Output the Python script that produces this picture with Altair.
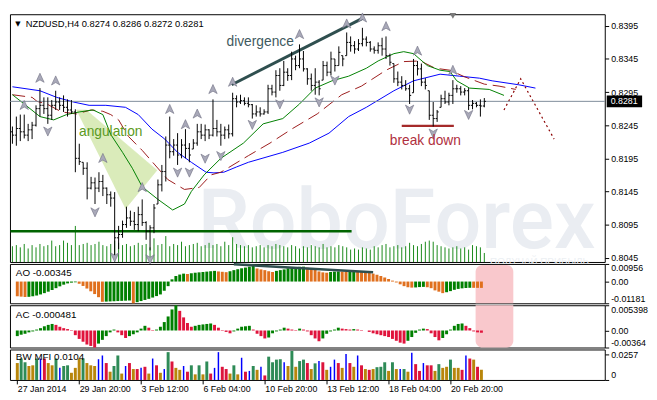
import altair as alt
import pandas as pd

# ---------------- values ----------------
# NZDUSD H4 bars, bar 0 = 27 Jan 2014 04:00 ... bar 120 = last bar
highs = [0.8243,0.8258,0.8261,0.8261,0.8247,0.8250,0.8275,0.8301,0.8287,0.8287,
         0.8283,0.8297,0.8287,0.8290,0.8284,0.8283,0.8269,0.8217,0.8189,0.8189,
         0.8167,0.8166,0.8174,0.8170,0.8151,0.8145,0.8144,0.8093,0.8101,0.8122,
         0.8116,0.8114,0.8122,0.8133,0.8100,0.8094,0.8126,0.8163,0.8185,0.8228,
         0.8258,0.8224,0.8233,0.8224,0.8239,0.8218,0.8224,0.8247,0.8247,0.8246,
         0.8239,0.8284,0.8253,0.8247,0.8243,0.8246,0.8294,0.8290,0.8291,0.8287,
         0.8287,0.8277,0.8275,0.8272,0.8269,0.8306,0.8306,0.8328,0.8331,0.8342,
         0.8331,0.8356,0.8350,0.8367,0.8357,0.8331,0.8323,0.8331,0.8313,0.8342,
         0.8341,0.8356,0.8345,0.8364,0.8350,0.8385,0.8379,0.8372,0.8375,0.8392,
         0.8379,0.8372,0.8364,0.8370,0.8377,0.8379,0.8353,0.8338,0.8326,0.8319,
         0.8313,0.8306,0.8345,0.8342,0.8338,0.8316,0.8297,0.8280,0.8268,0.8291,
         0.8297,0.8294,0.8313,0.8306,0.8304,0.8301,0.8301,0.8283,0.8280,0.8284,
         0.8286]
lows = [0.8217,0.8214,0.8221,0.8225,0.8221,0.8224,0.8243,0.8258,0.8262,0.8247,
        0.8253,0.8268,0.8268,0.8265,0.8258,0.8262,0.8174,0.8185,0.8170,0.8133,
        0.8148,0.8126,0.8144,0.8138,0.8126,0.8122,0.8049,0.8058,0.8075,0.8090,
        0.8093,0.8087,0.8085,0.8093,0.8072,0.8056,0.8082,0.8126,0.8145,0.8160,
        0.8195,0.8199,0.8185,0.8195,0.8195,0.8189,0.8209,0.8214,0.8224,0.8221,
        0.8224,0.8228,0.8228,0.8214,0.8224,0.8225,0.8228,0.8272,0.8277,0.8275,
        0.8272,0.8255,0.8258,0.8258,0.8261,0.8262,0.8290,0.8287,0.8297,0.8304,
        0.8312,0.8313,0.8328,0.8331,0.8326,0.8306,0.8297,0.8291,0.8290,0.8313,
        0.8319,0.8320,0.8326,0.8335,0.8334,0.8350,0.8356,0.8353,0.8357,0.8364,
        0.8364,0.8356,0.8353,0.8353,0.8350,0.8345,0.8335,0.8309,0.8304,0.8299,
        0.8297,0.8277,0.8294,0.8320,0.8304,0.8299,0.8253,0.8243,0.8250,0.8272,
        0.8277,0.8275,0.8277,0.8294,0.8290,0.8290,0.8268,0.8269,0.8272,0.8258,
        0.8272]
closes = [0.8230,0.8240,0.8235,0.8230,0.8238,0.8245,0.8270,0.8275,0.8270,0.8260,
          0.8275,0.8280,0.8275,0.8272,0.8268,0.8265,0.8195,0.8190,0.8180,0.8150,
          0.8158,0.8150,0.8160,0.8150,0.8140,0.8135,0.8075,0.8080,0.8095,0.8105,
          0.8100,0.8095,0.8110,0.8098,0.8085,0.8090,0.8120,0.8155,0.8175,0.8215,
          0.8205,0.8215,0.8200,0.8215,0.8210,0.8200,0.8218,0.8235,0.8230,0.8238,
          0.8230,0.8240,0.8235,0.8230,0.8238,0.8232,0.8285,0.8280,0.8282,0.8278,
          0.8276,0.8262,0.8265,0.8262,0.8265,0.8300,0.8295,0.8320,0.8305,0.8325,
          0.8320,0.8345,0.8335,0.8345,0.8330,0.8315,0.8305,0.8310,0.8300,0.8335,
          0.8325,0.8345,0.8335,0.8355,0.8345,0.8370,0.8365,0.8360,0.8368,0.8375,
          0.8370,0.8360,0.8358,0.8365,0.8360,0.8350,0.8340,0.8315,0.8310,0.8305,
          0.8300,0.8290,0.8335,0.8330,0.8310,0.8305,0.8260,0.8255,0.8265,0.8285,
          0.8280,0.8290,0.8300,0.8300,0.8295,0.8297,0.8275,0.8278,0.8275,0.8274,
          0.8281]
first_open = 0.8235
volumes = [1400,1500,1300,1600,1200,1500,1300,1600,1400,1500,
           1900,1400,1500,1900,1700,1500,3200,1500,1600,1700,
           1500,1600,1800,1500,1400,1600,1900,1700,1500,1600,
           1400,1500,1700,1500,1600,1300,2100,1500,1600,2300,
           1400,1600,1500,1800,1400,1500,1600,1700,1400,1500,
           1700,1500,1600,1400,1800,1500,2200,1600,1500,1400,
           1500,1300,1400,1500,1300,1500,1400,1600,1500,1400,
           1300,1500,1400,1200,1400,1300,1500,1400,1300,1600,
           1300,1400,1300,1500,1400,1300,1100,1200,1100,1300,
           1200,1100,1400,1300,1500,1600,1300,1400,1500,1300,
           1400,1700,1500,1400,1600,1800,1900,1800,1500,1400,
           1300,1200,1300,1400,1200,1300,1100,1500,1400,1300,
           800]
ao_values = [-0.0080,-0.0082,-0.0084,-0.0083,-0.0080,-0.0076,-0.0070,-0.0063,-0.0055,-0.0046,
             -0.0036,-0.0026,-0.0017,-0.0010,-0.0006,-0.0004,-0.0012,-0.0024,-0.0038,-0.0053,
             -0.0068,-0.0085,-0.0110,-0.0109,-0.0108,-0.0107,-0.0106,-0.0105,-0.0104,-0.0103,
             -0.0118,-0.0112,-0.0106,-0.0100,-0.0094,-0.0087,-0.0079,-0.0070,-0.0050,-0.0025,
             0.0012,0.0030,0.0038,0.0043,0.0041,0.0045,0.0048,0.0050,0.0052,0.0054,
             0.0056,0.0058,0.0055,0.0053,0.0051,0.0056,0.0062,0.0067,0.0072,0.0076,
             0.0081,0.0085,0.0071,0.0066,0.0062,0.0056,0.0052,0.0058,0.0062,0.0066,
             0.0072,0.0076,0.0078,0.0080,0.0081,0.0075,0.0070,0.0065,0.0055,0.0050,
             0.0048,0.0052,0.0054,0.0055,0.0054,0.0053,0.0056,0.0060,0.0057,0.0054,
             0.0052,0.0048,0.0043,0.0037,0.0030,0.0022,0.0014,0.0005,-0.0005,-0.0015,
             -0.0025,-0.0031,-0.0033,-0.0032,-0.0030,-0.0029,-0.0031,-0.0036,-0.0048,-0.0055,
             -0.0063,-0.0058,-0.0052,-0.0045,-0.0040,-0.0037,-0.0035,-0.0034,-0.00342,-0.00344,
             -0.00345]
ac_values = [-0.0012,-0.0009,-0.0007,-0.0004,-0.0002,0.0002,0.0005,0.0009,0.0012,0.0014,
             0.0012,0.0008,0.0005,0.0003,0.0001,-0.0010,-0.0018,-0.0024,-0.0030,-0.0033,
             -0.00364,-0.0028,-0.0020,-0.0012,-0.0004,0.0002,-0.0004,-0.0010,-0.0016,-0.0012,
             -0.0008,-0.0004,0.0004,0.0010,0.0006,0.0001,0.0002,0.0008,0.0018,0.0030,
             0.0045,0.005398,0.0042,0.0028,0.0016,0.0008,0.0010,0.0012,0.0013,0.0014,
             0.0015,0.0012,0.0006,0.0001,-0.0003,-0.0006,-0.0002,0.0004,0.0008,0.0009,
             0.0010,0.0002,-0.0007,-0.0012,-0.0017,-0.0015,-0.0006,-0.0002,0.0002,0.0006,
             0.0004,0.0002,0.0001,0.0004,0.0002,-0.0002,-0.0010,-0.0017,-0.0023,-0.0017,
             -0.0007,-0.0002,0.0002,0.0006,0.0004,0.0003,0.0002,0.0003,0.0002,0.0001,
             0.0000,-0.0003,-0.0006,-0.0008,-0.0010,-0.0012,-0.0014,-0.0018,-0.0022,-0.0026,
             -0.0028,-0.0022,-0.0014,-0.0005,0.0002,0.0004,0.0003,-0.0006,-0.0014,-0.0021,
             -0.0016,-0.0008,0.0002,0.0010,0.0014,0.0015,0.0010,0.0005,-0.0002,-0.0004,
             -0.000481]
mfi_values = [0.0172,0.0218,0.0180,0.0142,0.0149,0.0218,0.0218,0.0218,0.0172,0.0149,
              0.0218,0.0123,0.0142,0.0149,0.0073,0.0123,0.0218,0.0218,0.0172,0.0149,
              0.0142,0.0211,0.0249,0.0172,0.0084,0.0142,0.0249,0.0065,0.0142,0.0172,
              0.0111,0.0111,0.0123,0.0134,0.0065,0.0218,0.0149,0.0073,0.0111,0.0283,
              0.0188,0.0123,0.0103,0.0142,0.0084,0.0149,0.0057,0.0149,0.0057,0.0188,
              0.0065,0.0123,0.0283,0.0134,0.0111,0.0065,0.0149,0.0057,0.0226,0.0084,
              0.0092,
              0.0142,0.0103,0.0134,0.0046,0.0237,0.0180,0.0207,0.0211,0.0180,0.0142,
              0.0295,0.0134,0.0192,0.0207,0.0172,0.0111,0.0169,0.0192,0.0180,0.0103,
              0.0134,0.0207,0.0172,0.0123,0.0264,0.0172,0.0134,0.0249,0.0149,0.0111,
              0.0103,0.0111,0.0130,0.0134,0.0180,0.0092,0.0180,0.0111,0.0111,0.0111,
              0.0084,0.0276,0.0161,0.0092,0.0172,0.0149,0.0149,0.0092,0.0161,0.0123,
              0.0134,0.0207,0.0123,0.0123,0.0103,0.0249,0.0218,0.0207,0.0134,0.0104]
# g = green, y = brown (fade), b = blue (fake), r = pink (squat)
mfi_kinds = list("yggyygbryy" "gbggyyygyy" "ybbryggybr" "yrbrybrybg" "ryybrgygyg"
                 "rbbrrygybr" "b"
                 "gybrggggby" "gyggrygbry" "bbrybrybry" "rygggygybg" "ybrrbrrygy"
                 "ygyyrbryry")

# Alligator lines (bar index, price)
blue_i = [0,7,11.25,15.5,19.5,23.75,28.75,32,35.5,38.75,42,45.5,49.25,51.25,53.75,57,60,
          68.75,75.5,80.5,85.5,90,97,102,108.75,113.75,118.75,122,128.75,133]
blue_p = [0.8303,0.8297,0.8287,0.8280,0.8275,0.8275,0.8272,0.8261,0.8239,0.8224,
          0.8204,0.8189,0.8174,0.8173,0.8174,0.8182,0.8189,0.8204,0.8218,0.8233,
          0.8258,0.8272,0.8297,0.8312,0.8322,0.8319,0.8316,0.8312,0.8306,0.8301]
red_i = [0,5,6.25,8.75,12.5,16.25,20,23,25,27,29.5,33,36.25,39.5,43.75,47.5,50.5,53,60,65.5,
         71.25,77.5,83.75,88.75,95,99.5,103.75,107.5,111.25,115,120,123.75,128]
red_p = [0.8291,0.8287,0.8281,0.8277,0.8265,0.8262,0.8268,0.8266,0.8261,0.8253,
         0.8228,0.8207,0.8185,0.8163,0.8148,0.8151,0.8170,0.8174,0.8199,0.8218,
         0.8240,0.8262,0.8291,0.8304,0.8328,0.8341,0.8342,0.8331,0.8328,0.8318,
         0.8307,0.8304,0.8299]
green_i = [0,3,7,10.5,13.75,17,20.5,23,25,28,30.5,33,37,40.75,43.75,45.5,48.75,53,58.75,63.75,
           68.75,73,77,81.25,85.5,90,93,97,99.5,102,105.5,108.75,111.25,113,116.25,121.25,125]
green_p = [0.8291,0.8277,0.8258,0.8253,0.8261,0.8265,0.8268,0.8261,0.8231,0.8204,
           0.8180,0.8152,0.8133,0.8117,0.8126,0.8145,0.8170,0.8195,0.8218,0.8247,
           0.8255,0.8277,0.8301,0.8312,0.8319,0.8331,0.8342,0.8353,0.8356,0.8353,
           0.8335,0.8328,0.8326,0.8312,0.8301,0.8299,0.8290]
proj_i = [125, 129.25, 137.75]
proj_p = [0.8268, 0.8315, 0.8224]

# fractals
up_i = [3, 7, 11, 23, 33, 40, 44, 47, 51, 56, 73, 85, 89, 95, 103, 112]
up_p = [0.8275, 0.8316, 0.8312, 0.8195, 0.8151, 0.8269, 0.8246, 0.8262, 0.8299, 0.8310,
        0.8382, 0.8398, 0.8407, 0.8394, 0.8357, 0.8328]
dn_i = [9, 21, 26, 35, 42, 45, 49, 53, 61, 68, 78, 82, 101, 107, 116]
dn_p = [0.8236, 0.8114, 0.8046, 0.8043, 0.8174, 0.8174, 0.8195, 0.8199, 0.8246, 0.8277,
        0.8280, 0.8313, 0.8269, 0.8233, 0.8261]

# drawn objects
support_i = [-0.5, 86.25]
support_p = 0.8085
div_i = [55.75, 89.25]
div_p = [0.8306, 0.8407]
break_i = [99, 112.25]
break_p = 0.8244
angul_i = [16.25, 18.75, 36.75, 28.75]
angul_p = [0.8268, 0.8268, 0.8177, 0.8119]
ao_div_i = [56, 92]
ao_div_v = [0.0094, 0.0050]
pink_i = [118.5, 128.25]
last_price = 0.8281

notes = ["divergence", "angulation", "break down"]
notes_i = [63, 25, 105]
notes_p = [0.8370, 0.8234, 0.8221]
notes_c = ["#3f5a60", "#5b9a22", "#b03040"]

header = "NZDUSD,H4  0.8274 0.8286 0.8272 0.8281"
ao_label = "AO -0.00345"
ac_label = "AC -0.000481"
mfi_label = "BW MFI 0.0104"

price_ticks = [0.8045, 0.8095, 0.8145, 0.8195, 0.8245, 0.8295, 0.8345, 0.8395]
ao_ticks = [-0.01181, 0.0, 0.00956]
ao_tick_labels = ['-0.01181', '0.00', '0.00956']
ac_ticks = [-0.00364, 0.0, 0.005398]
ac_tick_labels = ['-0.00364', '0.00', '0.005398']
mfi_ticks = [0.0, 0.0257]
mfi_tick_labels = ['0', '0.0257']
time_ticks = [0, 16, 32, 48, 64, 80, 96, 112]
time_labels = ['27 Jan 2014', '29 Jan 20:00', '3 Feb 12:00', '6 Feb 04:00',
               '10 Feb 20:00', '13 Feb 12:00', '18 Feb 04:00', '20 Feb 20:00']

# ---------------- build ----------------
N = len(highs)
idx = list(range(N))
opens = []
prev = first_open
for h, l, c in zip(highs, lows, closes):
    opens.append(min(max(prev, l), h))
    prev = c

W = 605
H_MAIN, H_AO, H_AC, H_MFI = 252, 40, 43, 31
FONT = "Liberation Sans"
XS = alt.Scale(domain=[-0.625, 150.625], nice=False, zero=False)


def X(field, axis=None):
    return alt.X(field, type="quantitative", scale=XS, axis=axis)


def right_axis(values, labels=None, fmt=None, flush=False):
    kw = dict(orient="right", values=values, tickSize=4, labelPadding=2, domain=False,
              grid=False, title=None, labelFontSize=9, labelColor="black",
              tickColor="black", labelFont=FONT, labelFlush=flush)
    if labels is not None:
        kw["labelExpr"] = f"{labels}[indexof({values}, datum.value)]"
    if fmt is not None:
        kw["format"] = fmt
    return alt.Axis(**kw)


PS = alt.Scale(domain=[0.80385, 0.84125], nice=False, zero=False)
price_axis = right_axis(price_ticks, fmt=".4f")


def P(field):
    return alt.Y(field, type="quantitative", scale=PS, axis=price_axis)


ohlc = pd.DataFrame({"i": idx, "o": opens, "h": highs, "l": lows, "c": closes})

# background group: watermark + volumes
wm = alt.Chart(pd.DataFrame({"t": ["RoboForex"]})).mark_text(
    align="left", baseline="alphabetic", font="Roboto", fontSize=84, fontWeight=500,
    color="#eaedf2").encode(x=alt.value(191), y=alt.value(238), text="t:N")
wm2 = alt.Chart(pd.DataFrame({"t": ["ПОЛУЧАЙ ПРИБЫЛЬ"]})).mark_text(
    align="right", baseline="alphabetic", font=FONT, fontSize=10,
    color="#eceff3").encode(x=alt.value(589), y=alt.value(254), text="t:N")
vol = alt.Chart(pd.DataFrame({"i": idx, "v": volumes})).mark_rule(
    color="#1a8a1a", strokeWidth=1).encode(
    x=X("i"), y=alt.Y("v:Q", scale=alt.Scale(domain=[0, 22000], nice=False), axis=None),
    y2=alt.datum(0))
back = alt.layer(wm, wm2, vol)

angul = alt.Chart(pd.DataFrame({"i": angul_i, "p": angul_p, "k": [0, 1, 2, 3]})).mark_line(
    fill="#d3e8ae", fillOpacity=0.85, stroke="#d3e8ae", strokeWidth=0.5).encode(
    x=X("i"), y=P("p"), order="k:Q")
support = alt.Chart(pd.DataFrame({"a": [support_i[0]], "b": [support_i[1]], "p": [support_p]})).mark_rule(
    color="#006400", strokeWidth=2.5).encode(x=X("a"), x2="b", y=P("p"))
blue = alt.Chart(pd.DataFrame({"i": blue_i, "p": blue_p})).mark_line(
    color="#0000ff", strokeWidth=1).encode(x=X("i"), y=P("p"))
red = alt.Chart(pd.DataFrame({"i": red_i, "p": red_p})).mark_line(
    color="#9b1b1b", strokeWidth=1, strokeDash=[13, 6]).encode(x=X("i"), y=P("p"))
green = alt.Chart(pd.DataFrame({"i": green_i, "p": green_p})).mark_line(
    color="#008000", strokeWidth=1).encode(x=X("i"), y=P("p"))
proj = alt.Chart(pd.DataFrame({"i": proj_i, "p": proj_p})).mark_line(
    color="#8b0000", strokeWidth=1.2, strokeDash=[2, 3]).encode(x=X("i"), y=P("p"))
cur = alt.Chart(pd.DataFrame({"p": [last_price]})).mark_rule(
    color="#7d8b99", strokeWidth=1).encode(y=P("p"))
div = alt.Chart(pd.DataFrame({"a": [div_i[0]], "b": [div_i[1]], "pa": [div_p[0]], "pb": [div_p[1]]})).mark_rule(
    color="#2f4f4f", strokeWidth=3).encode(x=X("a"), x2="b", y=P("pa"), y2="pb")
brk = alt.Chart(pd.DataFrame({"a": [break_i[0]], "b": [break_i[1]], "p": [break_p]})).mark_rule(
    color="#a52a2a", strokeWidth=2.5).encode(x=X("a"), x2="b", y=P("p"))

hl = alt.Chart(ohlc).mark_rule(color="black", strokeWidth=1).encode(x=X("i"), y=P("l"), y2="h")
op = alt.Chart(ohlc).transform_calculate(il="datum.i - 0.4").mark_rule(
    color="black", strokeWidth=1).encode(x=X("il"), x2="i", y=P("o"))
cl = alt.Chart(ohlc).transform_calculate(ir="datum.i + 0.4").mark_rule(
    color="black", strokeWidth=1).encode(x=X("i"), x2="ir", y=P("c"))

UP = "M0,-1L0.85,0.85L0,0.35L-0.85,0.85Z"
DN = "M0,1L0.85,-0.85L0,-0.35L-0.85,-0.85Z"
fr_up = alt.Chart(pd.DataFrame({"i": up_i, "p": up_p})).mark_point(
    shape=UP, filled=True, fill="#a9a9b9", stroke="#6f6f82", strokeWidth=0.6, size=100,
    opacity=1).encode(x=X("i"), y=P("p"))
fr_dn = alt.Chart(pd.DataFrame({"i": dn_i, "p": dn_p})).mark_point(
    shape=DN, filled=True, fill="#a9a9b9", stroke="#6f6f82", strokeWidth=0.6, size=100,
    opacity=1).encode(x=X("i"), y=P("p"))
shift_mark = alt.Chart(pd.DataFrame({"i": [112], "p": [0.8410]})).mark_point(
    shape="triangle-down", filled=True, color="#7a7a7a", size=45, opacity=1).encode(
    x=X("i"), y=P("p"))

note_txt = alt.Chart(pd.DataFrame({"t": notes, "i": notes_i, "p": notes_p, "c": notes_c})).mark_text(
    font=FONT, fontSize=14, baseline="middle", align="center").encode(
    x=X("i"), y=P("p"), text="t:N", color=alt.Color("c:N", scale=None))
hdr_tri = alt.Chart(pd.DataFrame({"t": ["▼"]})).mark_text(
    font="DejaVu Sans", fontSize=7, align="center", baseline="alphabetic", color="black").encode(
    x=alt.value(8), y=alt.value(11.5), text="t:N")
hdr = alt.Chart(pd.DataFrame({"t": [header]})).mark_text(
    font=FONT, fontSize=9.5, align="left", baseline="alphabetic", color="black").encode(
    x=alt.value(16), y=alt.value(12.5), text="t:N")
pbox = alt.Chart(pd.DataFrame({"p": [last_price]})).transform_calculate(
    lo="datum.p - 0.00088", hi="datum.p + 0.00088").mark_rect(color="black").encode(
    x=alt.value(607), x2=alt.value(643), y=P("lo"), y2="hi")
ptxt = alt.Chart(pd.DataFrame({"p": [last_price]})).mark_text(
    font=FONT, fontSize=9, align="left", baseline="middle", color="white").encode(
    x=alt.value(611), y=P("p"), text=alt.Text("p:Q", format=".4f"))

front = alt.layer(angul, support, blue, red, green, proj, cur, div, brk, hl, op, cl,
                  fr_up, fr_dn, shift_mark, note_txt, hdr_tri, hdr, pbox, ptxt)
main = alt.layer(back, front).resolve_scale(y="independent").properties(width=W, height=H_MAIN)

pink_df = pd.DataFrame({"a": [pink_i[0]], "b": [pink_i[1]]})


def panel_label(text, ypix):
    return alt.Chart(pd.DataFrame({"t": [text]})).mark_text(
        font=FONT, fontSize=10, align="left", baseline="alphabetic", color="black").encode(
        x=alt.value(6), y=alt.value(ypix), text="t:N")


# AO panel
ao_dir = ["#e0701e"] + ["#008000" if ao_values[k] > ao_values[k - 1] else "#e0701e" for k in range(1, N)]
AOS = alt.Scale(domain=[-0.01181, 0.00956], nice=False, zero=False)
ao_axis = right_axis(ao_ticks, ao_tick_labels, flush=True)
ao_pink = alt.Chart(pink_df).mark_rect(
    color="#f9c8cc", cornerRadiusTopLeft=7, cornerRadiusTopRight=7).encode(
    x=X("a"), x2="b", y=alt.value(1), y2=alt.value(H_AO))
ao_bars = alt.Chart(pd.DataFrame({"i": idx, "v": ao_values, "col": ao_dir})).mark_bar(width=3).encode(
    x=X("i"), y=alt.Y("v:Q", scale=AOS, axis=ao_axis), y2=alt.datum(0),
    color=alt.Color("col:N", scale=None))
ao_div = alt.Chart(pd.DataFrame({"i": ao_div_i, "v": ao_div_v})).mark_line(
    color="#2f4f4f", strokeWidth=2.5).encode(x=X("i"), y=alt.Y("v:Q", scale=AOS, axis=ao_axis))
ao_p = alt.layer(ao_pink, ao_bars, ao_div, panel_label(ao_label, 12)).properties(width=W, height=H_AO)

# AC panel
ac_dir = ["#008000"] + ["#008000" if ac_values[k] > ac_values[k - 1] else "#e0143c" for k in range(1, N)]
ACS = alt.Scale(domain=[-0.00364, 0.005398], nice=False, zero=False)
ac_axis = right_axis(ac_ticks, ac_tick_labels, flush=True)
ac_pink = alt.Chart(pink_df).mark_rect(
    color="#f9c8cc", cornerRadiusBottomLeft=7, cornerRadiusBottomRight=7).encode(
    x=X("a"), x2="b", y=alt.value(0), y2=alt.value(H_AC))
ac_bars = alt.Chart(pd.DataFrame({"i": idx, "v": ac_values, "col": ac_dir})).mark_bar(width=3).encode(
    x=X("i"), y=alt.Y("v:Q", scale=ACS, axis=ac_axis), y2=alt.datum(0),
    color=alt.Color("col:N", scale=None))
ac_p = alt.layer(ac_pink, ac_bars, panel_label(ac_label, 13)).properties(width=W, height=H_AC)

# BW MFI panel
kind_color = {"g": "#2e8b57", "y": "#b8860b", "b": "#0000ff", "r": "#dc143c"}
mfi_df = pd.DataFrame({"i": idx, "v": mfi_values, "k": mfi_kinds,
                       "col": [kind_color[k] for k in mfi_kinds]})
MS = alt.Scale(domain=[0, 0.031], nice=False)
mfi_axis = right_axis(mfi_ticks, mfi_tick_labels, flush=True)
time_axis = alt.Axis(values=time_ticks, labelExpr=f"{time_labels}[indexof({time_ticks}, datum.value)]",
                     labelAlign="left", tickSize=4, labelPadding=1, domain=False, grid=False,
                     title=None, labelFontSize=9, labelColor="black", tickColor="black",
                     labelFont=FONT, labelFlush=False, labelOverlap=False, labelBound=False)
mfi_bars = alt.Chart(mfi_df).transform_filter("datum.k != 'b'").mark_bar(width=3).encode(
    x=X("i", time_axis), y=alt.Y("v:Q", scale=MS, axis=mfi_axis), y2=alt.datum(0),
    color=alt.Color("col:N", scale=None))
mfi_blue = alt.Chart(mfi_df).transform_filter("datum.k == 'b'").mark_rule(
    color="#0000ff", strokeWidth=1.5).encode(
    x=X("i", time_axis), y=alt.Y("v:Q", scale=MS, axis=mfi_axis), y2=alt.datum(0))
mfi_p = alt.layer(mfi_bars, mfi_blue, panel_label(mfi_label, 11)).properties(width=W, height=H_MFI)

chart = alt.vconcat(main, ao_p, ac_p, mfi_p, spacing=2, bounds="flush").properties(
    padding=0, background="white").configure_view(
    stroke="black", strokeWidth=1).configure_text(font=FONT)

chart.save("out.html", embed_options={"renderer": "svg", "actions": False})
